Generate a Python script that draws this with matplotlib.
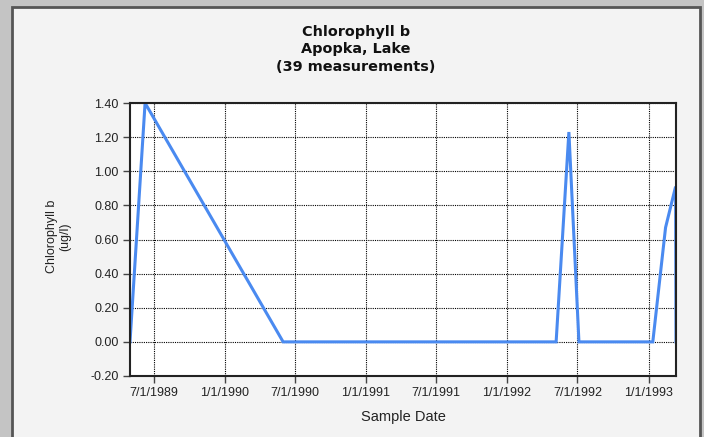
import datetime as dt
import matplotlib
matplotlib.use('Agg')
import matplotlib.pyplot as plt
import matplotlib.dates as mdates
from matplotlib.patches import Rectangle
from matplotlib.ticker import FuncFormatter

# sample dates and values (ug/l)
dates = ['1989-05-01', '1989-06-09', '1990-06-01', '1992-05-07', '1992-06-09',
         '1992-07-05', '1993-01-12', '1993-02-14', '1993-03-12', '1993-03-13']
values = [0.00, 1.40, 0.00, 0.00, 1.23, 0.00, 0.00, 0.67, 0.91, 0.00]

tick_dates = ['1989-07-01', '1990-01-01', '1990-07-01', '1991-01-01',
              '1991-07-01', '1992-01-01', '1992-07-01', '1993-01-01']
y_ticks = [-0.2, 0.0, 0.2, 0.4, 0.6, 0.8, 1.0, 1.2, 1.4]

x = [dt.datetime.strptime(d, '%Y-%m-%d') for d in dates]
xt = [dt.datetime.strptime(d, '%Y-%m-%d') for d in tick_dates]

plt.rcParams['font.family'] = ['Liberation Sans', 'DejaVu Sans']

fig = plt.figure(figsize=(7.04, 4.37), dpi=100, facecolor='#c4c4c4')

# window panel
fig.patches.append(Rectangle((12 / 704, -0.05), 688 / 704, 1.05 - 7 / 437,
                             transform=fig.transFigure, facecolor='#f3f3f3',
                             edgecolor='#555555', linewidth=2, zorder=-5))

ax = fig.add_axes([130 / 704, 1 - 376 / 437, 546 / 704, 273 / 437])
ax.set_zorder(2)
ax.set_facecolor('white')

ax.plot(x, values, color='#4a8af0', linewidth=2.2, solid_joinstyle='miter')

ax.set_xlim(x[0], x[-1])
ax.set_ylim(-0.2, 1.4)
ax.set_yticks(y_ticks)
ax.yaxis.set_major_formatter(FuncFormatter(lambda v, p: '%.2f' % v))
ax.set_xticks(mdates.date2num(xt))
ax.xaxis.set_major_formatter(FuncFormatter(
    lambda v, p: '{0.month}/{0.day}/{0.year}'.format(mdates.num2date(v))))

ax.grid(True, color='black', linestyle=(0, (1, 1)), linewidth=0.8)
for s in ax.spines.values():
    s.set_linewidth(1.5)
    s.set_color('#222222')
ax.tick_params(direction='out', length=5, width=1, color='#444444',
               labelsize=9, labelcolor='#222222', pad=3)

ax.set_xlabel('Sample Date', fontsize=10.5, color='#222222', labelpad=8)

fig.text(58.5 / 704, 1 - 236.5 / 437, 'Chlorophyll b\n(ug/l)', rotation=90,
         ha='center', va='center', fontsize=9, color='#222222',
         linespacing=1.2, multialignment='center')

fig.text(356 / 704, 1 - 49.5 / 437,
         'Chlorophyll b\nApopka, Lake\n(39 measurements)',
         ha='center', va='center', fontsize=10.4, fontweight='bold',
         family=['DejaVu Sans'], linespacing=1.3, color='#111111', zorder=3)

fig.savefig('out.png', dpi=100, facecolor=fig.get_facecolor())
